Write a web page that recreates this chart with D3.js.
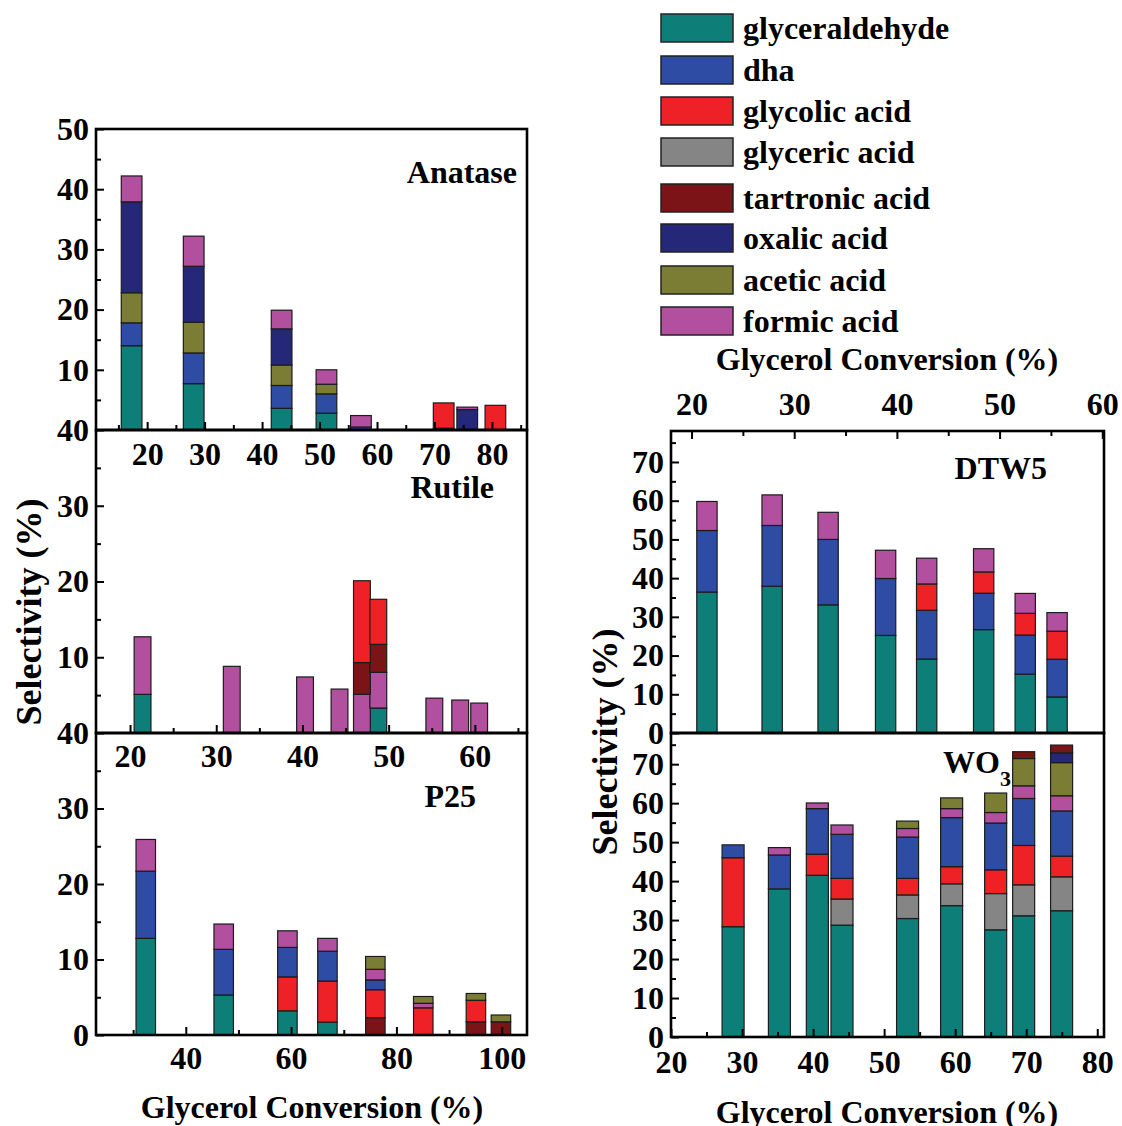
<!DOCTYPE html>
<html>
<head>
<meta charset="utf-8">
<script src="https://cdn.jsdelivr.net/npm/d3@7"></script>
<style>
  body { margin: 0; background: #fff; }
  text { font-family: "Liberation Serif", "Times New Roman", serif; font-weight: bold; fill: #000; }
</style>
</head>
<body>
<script>
// products shown in the legend (legend order) and their fill colours
const seriesNames = ['glyceraldehyde', 'dha', 'glycolic acid', 'glyceric acid',
  'tartronic acid', 'oxalic acid', 'acetic acid', 'formic acid'];
const seriesColors = ['#0d7f78', '#2e4ca3', '#ee2226', '#858585',
  '#7a1416', '#252878', '#7b7d34', '#b24f9f'];

// ---- Anatase ----
const anataseConversion = [17.3, 28.1, 43.4, 51.2, 57.2, 71.6, 75.7, 80.6];
const anataseOrder = ['glyceraldehyde', 'dha', 'acetic acid', 'oxalic acid', 'formic acid', 'glycolic acid'];
const anataseValues = [
  [14.0, 7.7, 3.6, 2.8, 0, 0, 0, 0],
  [3.8, 5.1, 3.8, 3.2, 0.5, 0, 0, 0],
  [5.0, 5.1, 3.4, 1.6, 0, 0, 0, 0],
  [15.1, 9.3, 6.0, 0, 0, 0, 3.4, 0],
  [4.3, 5.0, 3.1, 2.4, 1.9, 0.3, 0.4, 0],
  [0, 0, 0, 0, 0, 4.2, 0, 4.1]
];

// ---- Rutile ----
const rutileConversion = [21.45, 31.8, 40.3, 44.3, 46.9, 48.8, 55.3, 58.3, 60.5];
const rutileOrder = ['glyceraldehyde', 'formic acid', 'tartronic acid', 'glycolic acid'];
const rutileValues = [
  [5.1, 0, 0, 0, 0, 3.3, 0, 0, 0],
  [7.6, 8.8, 7.4, 5.8, 5.1, 4.7, 4.6, 4.35, 3.95],
  [0, 0, 0, 0, 4.2, 3.7, 0, 0, 0],
  [0, 0, 0, 0, 10.8, 5.95, 0, 0, 0]
];

// ---- P25 ----
const p25Conversion = [32.4, 47.2, 59.3, 66.9, 76.0, 85.1, 95.1, 99.85];
const p25Order = ['glyceraldehyde', 'tartronic acid', 'glycolic acid', 'dha', 'formic acid', 'acetic acid'];
const p25Values = [
  [12.8, 5.3, 3.2, 1.7, 0, 0, 0, 0],
  [0, 0, 0, 0, 2.3, 0, 1.75, 1.75],
  [0, 0, 4.5, 5.45, 3.7, 3.6, 2.85, 0],
  [8.9, 6.05, 3.9, 3.95, 1.3, 0, 0, 0],
  [4.2, 3.35, 2.2, 1.7, 1.4, 0.6, 0, 0],
  [0, 0, 0, 0, 1.7, 0.9, 0.9, 0.9]
];

// ---- DTW5 ----
const dtw5Conversion = [21.5, 27.85, 33.3, 38.9, 42.9, 48.45, 52.5, 55.6];
const dtw5Order = ['glyceraldehyde', 'dha', 'glycolic acid', 'formic acid'];
const dtw5Values = [
  [36.4, 37.9, 33.1, 25.2, 19.1, 26.7, 15.2, 9.3],
  [15.9, 15.7, 16.9, 14.7, 12.6, 9.4, 10.1, 9.75],
  [0, 0, 0, 0, 6.8, 5.5, 5.6, 7.25],
  [7.5, 7.9, 7.0, 7.3, 6.65, 6.0, 5.15, 4.8]
];

// ---- WO3 ----
const wo3Conversion = [28.74, 35.26, 40.6, 44.07, 53.3, 59.5, 65.7, 69.64, 74.98];
const wo3Order = ['glyceraldehyde', 'glyceric acid', 'glycolic acid', 'dha', 'formic acid',
  'acetic acid', 'oxalic acid', 'tartronic acid'];
const wo3Values = [
  [28.3, 38.0, 41.5, 28.7, 30.4, 33.7, 27.5, 31.1, 32.4],
  [0, 0, 0, 6.7, 6.05, 5.6, 9.3, 7.95, 8.7],
  [17.7, 0, 5.4, 5.3, 4.25, 4.4, 6.1, 10.1, 5.3],
  [3.3, 8.7, 11.7, 11.3, 10.6, 12.6, 12.0, 12.05, 11.6],
  [0, 1.9, 1.45, 2.4, 2.2, 2.3, 2.7, 3.25, 3.9],
  [0, 0, 0, 0, 1.9, 2.75, 5.0, 7.0, 8.5],
  [0, 0, 0, 0, 0, 0, 0, 0, 2.5],
  [0, 0, 0, 0, 0, 0, 0, 1.75, 2.0]
];

const color = d3.scaleOrdinal().domain(seriesNames).range(seriesColors);
const FONT = 32;

const svg = d3.select('body').append('svg')
  .attr('width', 1122).attr('height', 1126);
svg.append('rect').attr('width', 1122).attr('height', 1126).attr('fill', '#fff');

function styleAxis(g) {
  g.attr('font-family', null).attr('font-size', FONT);
  g.select('.domain').remove();
  g.selectAll('.tick line').attr('stroke', '#000').attr('stroke-width', 2);
}

function drawPanel(p) {
  const x = d3.scaleLinear().domain(p.xDomain).range([p.left, p.right]);
  const y = d3.scaleLinear().domain(p.yDomain).range([p.bottom, p.top]);
  const g = svg.append('g').attr('class', p.name);

  // stacked columns
  const rows = p.conversion.map((c, i) => {
    const r = { conv: c };
    p.order.forEach((k, j) => { r[k] = p.values[j][i]; });
    return r;
  });
  const layers = d3.stack().keys(p.order)(rows);
  layers.forEach(layer => {
    g.selectAll(null)
      .data(layer.filter(d => d[1] - d[0] > 0))
      .join('rect')
      .attr('x', d => x(d.data.conv - p.barWidth / 2))
      .attr('width', d => x(d.data.conv + p.barWidth / 2) - x(d.data.conv - p.barWidth / 2))
      .attr('y', d => y(d[1]))
      .attr('height', d => y(d[0]) - y(d[1]))
      .attr('fill', color(layer.key))
      .attr('stroke', '#1c1c1c')
      .attr('stroke-width', 1.2);
  });

  // y axis (ticks inward)
  const yMinor = d3.range(p.yDomain[0] + 5, p.yDomain[1], 10);
  g.append('g').attr('transform', `translate(${p.left},0)`)
    .call(d3.axisLeft(y).tickValues(yMinor).tickSize(-5).tickFormat(''))
    .call(styleAxis);
  g.append('g').attr('transform', `translate(${p.left},0)`)
    .call(d3.axisLeft(y).tickValues(p.yLabels).tickSize(-8).tickPadding(7))
    .call(styleAxis);

  // x axis (ticks inward)
  const xAxis = p.xTop ? d3.axisTop : d3.axisBottom;
  const xPos = p.xTop ? p.top : p.bottom;
  g.append('g').attr('transform', `translate(0,${xPos})`)
    .call(xAxis(x).tickValues(p.xMinor).tickSize(-5).tickFormat(''))
    .call(styleAxis);
  g.append('g').attr('transform', `translate(0,${xPos})`)
    .call(xAxis(x).tickValues(p.xLabels).tickSize(-8).tickPadding(p.xPad))
    .call(styleAxis);

  // frame
  g.append('rect')
    .attr('x', p.left).attr('y', p.top)
    .attr('width', p.right - p.left).attr('height', p.bottom - p.top)
    .attr('fill', 'none').attr('stroke', '#000').attr('stroke-width', 2.6);

  // panel title
  const t = g.append('text')
    .attr('x', p.titleX).attr('y', p.titleY)
    .attr('text-anchor', p.titleAnchor || 'end').attr('font-size', FONT)
    .text(p.title);
  if (p.sub) {
    t.append('tspan').attr('font-size', 22).attr('dy', 13).text(p.sub);
  }
}

const LX0 = 96, LX1 = 527, RX0 = 671, RX1 = 1104;

drawPanel({
  name: 'anatase', title: 'Anatase', titleX: 517, titleY: 183,
  conversion: anataseConversion, order: anataseOrder, values: anataseValues,
  left: LX0, right: LX1, top: 129, bottom: 430,
  xDomain: [11.1, 86.1], yDomain: [0, 50], barWidth: 3.6,
  yLabels: [10, 20, 30, 40, 50],
  xLabels: d3.range(20, 81, 10), xMinor: d3.range(15, 86, 10), xPad: 12
});
drawPanel({
  name: 'rutile', title: 'Rutile', titleX: 494, titleY: 498,
  conversion: rutileConversion, order: rutileOrder, values: rutileValues,
  left: LX0, right: LX1, top: 430, bottom: 733,
  xDomain: [16.05, 66.05], yDomain: [0, 40], barWidth: 1.95,
  yLabels: [10, 20, 30, 40],
  xLabels: d3.range(20, 61, 10), xMinor: d3.range(25, 66, 10), xPad: 11
});
drawPanel({
  name: 'p25', title: 'P25', titleX: 476, titleY: 807,
  conversion: p25Conversion, order: p25Order, values: p25Values,
  left: LX0, right: LX1, top: 733, bottom: 1035,
  xDomain: [22.95, 104.8], yDomain: [0, 40], barWidth: 3.7,
  yLabels: [0, 10, 20, 30, 40],
  xLabels: [40, 60, 80, 100], xMinor: [30, 50, 70, 90], xPad: 11
});
drawPanel({
  name: 'dtw5', title: 'DTW5', titleX: 1047, titleY: 479,
  conversion: dtw5Conversion, order: dtw5Order, values: dtw5Values,
  left: RX0, right: RX1, top: 431, bottom: 733,
  xDomain: [18.0, 60.17], yDomain: [0, 78], barWidth: 1.98,
  yLabels: d3.range(0, 71, 10),
  xTop: true, xLabels: d3.range(20, 61, 10), xMinor: d3.range(25, 60, 10), xPad: 16
});
drawPanel({
  name: 'wo3', title: 'WO', sub: '3', titleX: 943, titleY: 773, titleAnchor: 'start',
  conversion: wo3Conversion, order: wo3Order, values: wo3Values,
  left: RX0, right: RX1, top: 733, bottom: 1037,
  xDomain: [20, 80.95], yDomain: [0, 78], barWidth: 3.1,
  yLabels: d3.range(0, 71, 10),
  xLabels: d3.range(20, 81, 10), xMinor: d3.range(25, 80, 10), xPad: 13
});

// axis titles
const axisTitles = [
  { text: 'Glycerol Conversion (%)', x: 312, y: 1118, rot: 0, size: FONT },
  { text: 'Glycerol Conversion (%)', x: 887, y: 1123, rot: 0, size: FONT },
  { text: 'Glycerol Conversion (%)', x: 887, y: 370, rot: 0, size: FONT },
  { text: 'Selectivity (%)', x: 41, y: 612, rot: -90, size: 36 },
  { text: 'Selectivity (%)', x: 617, y: 742, rot: -90, size: 36 }
];
svg.selectAll('.axis-title').data(axisTitles).join('text')
  .attr('class', 'axis-title')
  .attr('text-anchor', 'middle')
  .attr('font-size', d => d.size)
  .attr('transform', d => `translate(${d.x},${d.y}) rotate(${d.rot})`)
  .text(d => d.text);

// legend
const legendTops = [14, 56, 97, 138, 184, 224, 266, 307];
const legend = svg.append('g').attr('class', 'legend');
const item = legend.selectAll('g').data(seriesNames).join('g')
  .attr('transform', (d, i) => `translate(661,${legendTops[i]})`);
item.append('rect')
  .attr('width', 72).attr('height', 28)
  .attr('fill', d => color(d))
  .attr('stroke', '#222').attr('stroke-width', 1.5);
item.append('text')
  .attr('x', 82).attr('y', 25)
  .attr('font-size', FONT)
  .text(d => d);
</script>
</body>
</html>
